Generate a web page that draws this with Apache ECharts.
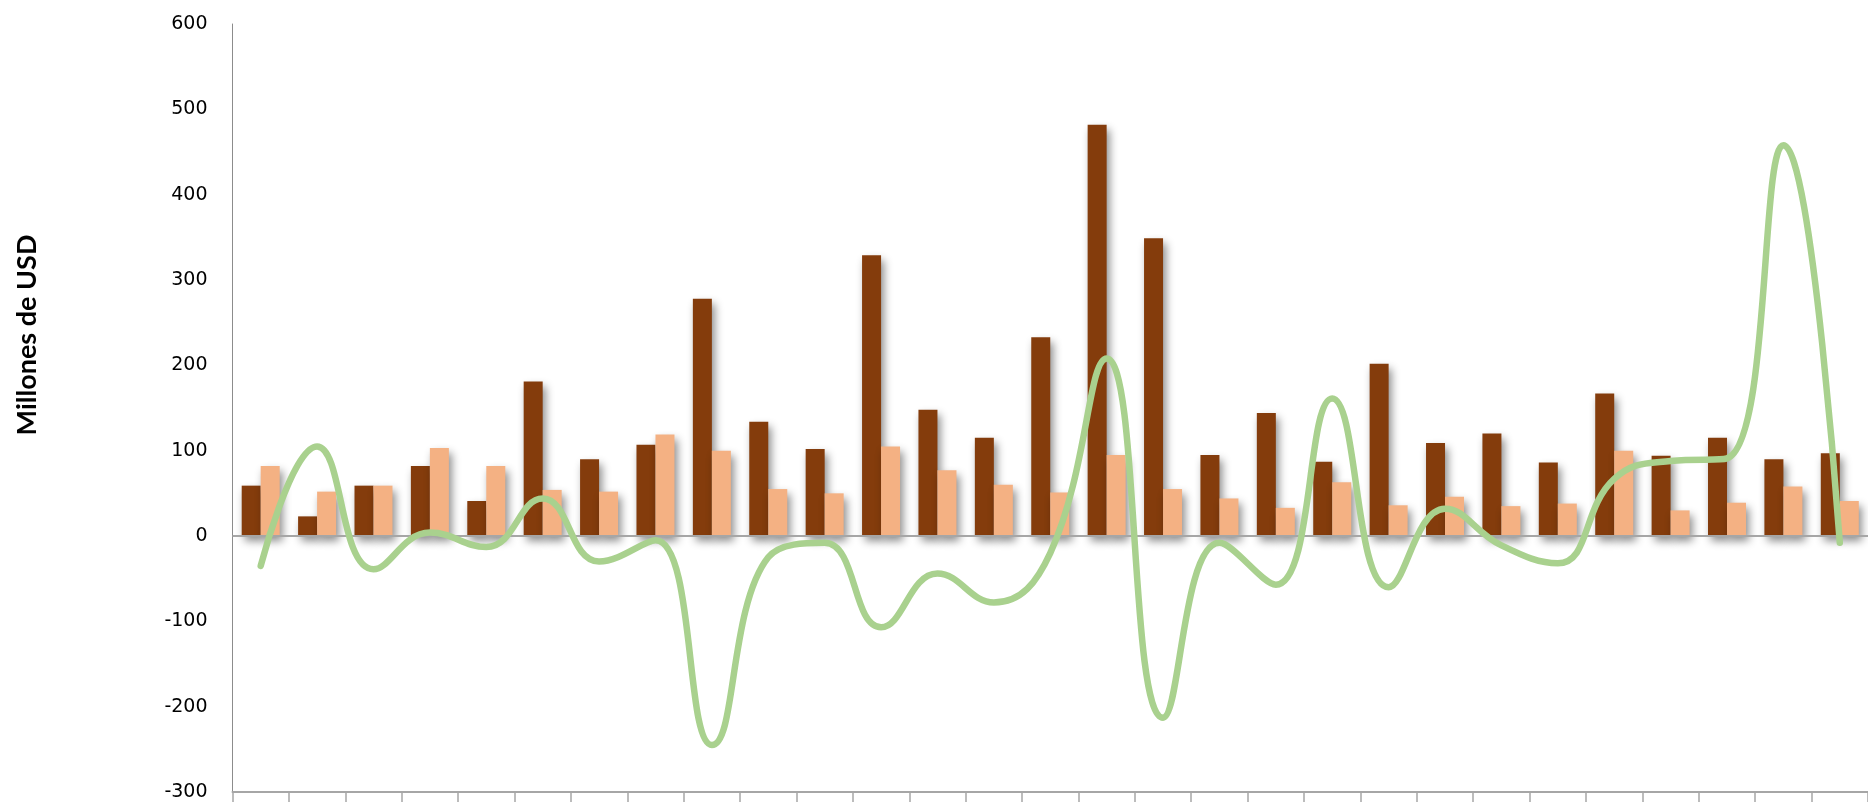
<!DOCTYPE html>
<html>
<head>
<meta charset="utf-8">
<script src="https://cdn.jsdelivr.net/npm/echarts@6/dist/echarts.min.js"></script>
<style>
  html, body { margin: 0; padding: 0; background: #fff; }
  #chart { width: 1868px; height: 802px; }
</style>
</head>
<body>
<div id="chart"></div>
<script>
// categorias (sin etiquetas visibles en el grafico)
const categorias = ['1', '2', '3', '4', '5', '6', '7', '8', '9', '10', '11', '12', '13', '14', '15',
  '16', '17', '18', '19', '20', '21', '22', '23', '24', '25', '26', '27', '28', '29']
// millones de USD
const serieOscura = [59, 23, 59, 82, 41, 181, 90, 107, 278, 134, 102, 329, 148, 115, 233,
  482, 349, 95, 144, 87, 202, 109, 120, 86, 167, 94, 115, 90, 97]
const serieClara = [82, 52, 59, 103, 82, 54, 52, 119, 100, 55, 50, 105, 77, 60, 51,
  95, 55, 44, 33, 63, 36, 46, 35, 38, 100, 30, 39, 58, 41]
const serieLinea = [-35, 105, -39, 4, -13, 44, -30, -5, -245, -25, -8, -107, -44, -78, -20,
  208, -213, -8, -57, 161, -60, 32, -11, -32, 67, 88, 91, 458, -8]

const sombra = {
  shadowBlur: 8,
  shadowColor: 'rgba(0,0,0,0.45)',
  shadowOffsetX: 3,
  shadowOffsetY: 5
}

const myChart = echarts.init(document.getElementById('chart'))
myChart.setOption({
  backgroundColor: '#ffffff',
  animation: false,
  // titulo del eje y, un poco por encima del centro como en el original
  graphic: [{
    type: 'text',
    x: 27,
    y: 335,
    rotation: Math.PI / 2,
    style: {
      text: 'Millones de USD',
      font: 'bold 27px Lato',
      fill: '#000',
      align: 'center',
      verticalAlign: 'middle'
    }
  }],
  grid: {
    left: 232.5,
    right: -9.5,
    top: 24,
    bottom: 10
  },
  xAxis: {
    type: 'category',
    data: categorias,
    boundaryGap: true,
    axisLine: { show: true, onZero: false, lineStyle: { color: '#a6a6a6', width: 2 } },
    axisTick: { show: true, interval: 0, length: 12, lineStyle: { color: '#a6a6a6', width: 1.5 } },
    axisLabel: { show: false },
    splitLine: { show: false }
  },
  yAxis: {
    type: 'value',
    min: -300,
    max: 600,
    interval: 100,
    axisLine: { show: true, lineStyle: { color: '#8c8c8c', width: 1 } },
    axisTick: { show: false },
    axisLabel: {
      margin: 25,
      fontFamily: 'DejaVu Sans',
      fontSize: 19,
      color: '#000'
    },
    splitLine: { show: false }
  },
  series: [
    {
      name: 'Serie 1',
      type: 'bar',
      data: serieOscura,
      barWidth: 19,
      barGap: '0%',
      itemStyle: Object.assign({ color: '#843c0c' }, sombra),
      markLine: {
        silent: true,
        symbol: 'none',
        label: { show: false },
        lineStyle: { color: '#a6a6a6', width: 2, type: 'solid' },
        data: [{ yAxis: 0 }]
      }
    },
    {
      name: 'Serie 2',
      type: 'bar',
      data: serieClara,
      barWidth: 19,
      barGap: '0%',
      itemStyle: Object.assign({ color: '#f4b183' }, sombra)
    },
    {
      name: 'Serie 3',
      type: 'line',
      data: serieLinea,
      smooth: 0.45,
      symbol: 'none',
      z: 5,
      lineStyle: { color: '#a9d18e', width: 6.5, cap: 'round' }
    }
  ]
})
</script>
</body>
</html>
